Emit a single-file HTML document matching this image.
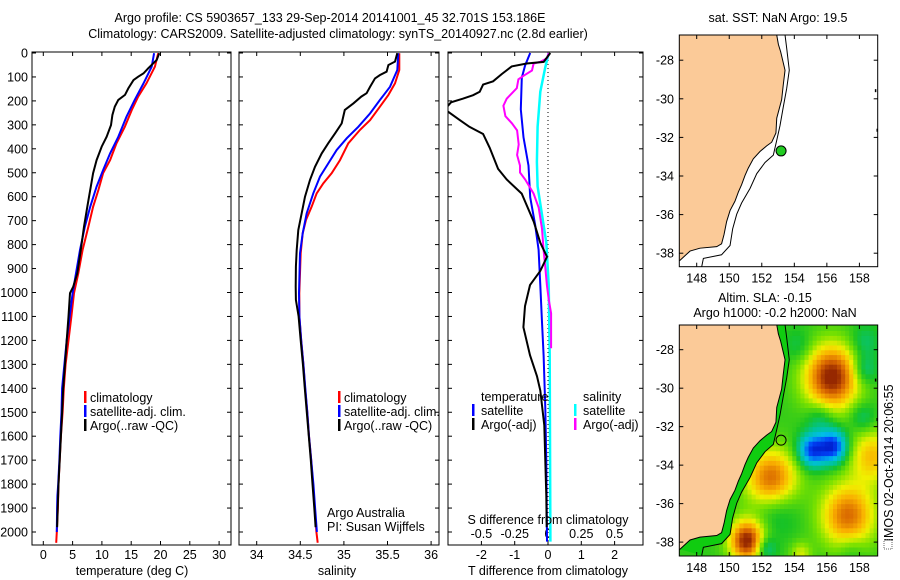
<!DOCTYPE html>
<html><head><meta charset="utf-8"><style>
html,body{margin:0;padding:0;background:#fff;}
svg{display:block;font-family:"Liberation Sans",sans-serif;}
text{font-size:12.5px;fill:#000;}
</style></head><body>
<svg id="fig" width="900" height="580" viewBox="0 0 900 580" xmlns="http://www.w3.org/2000/svg">
<defs>
<clipPath id="c1"><rect x="32" y="52" width="199" height="493"/></clipPath>
<clipPath id="c2"><rect x="239" y="52" width="200" height="493"/></clipPath>
<clipPath id="c3"><rect x="448" y="52" width="195" height="493"/></clipPath>
<clipPath id="cm1"><rect x="679.3" y="35" width="198.4" height="231.7"/></clipPath>
<clipPath id="cm2"><rect x="679.3" y="325" width="198.4" height="231"/></clipPath>
</defs>
<text x="330" y="22" text-anchor="middle">Argo profile: CS 5903657_133 29-Sep-2014 20141001_45 32.701S 153.186E</text>
<text x="338" y="38" text-anchor="middle">Climatology: CARS2009. Satellite-adjusted climatology: synTS_20140927.nc (2.8d earlier)</text>
<g id="g"></g>
</svg>
<script>
// ---- temperature panel data (depth m, deg C)
const tClimDepth=[1,57,127,182,238,308,377,447,502,572,642,725,822,920,1003,1100,1200,1300,1400,1500,1600,1700,1800,1900,2000,2045];
const tClimVal=[19.6,19.05,17.6,16.2,15.1,13.9,12.5,11.4,10.2,9.4,8.5,7.7,6.7,5.97,5.24,4.8,4.3,3.8,3.5,3.3,3.0,2.8,2.6,2.5,2.3,2.2];
const tSatDepth=[1,57,127,196,266,350,419,489,558,642,725,822,920,1003,1100,1200,1300,1400,1500,1600,1700,1800,1850,1900,2000];
const tSatVal=[18.9,18.5,17.1,15.6,14.2,12.8,11.4,10.2,9.1,8.0,7.1,6.26,5.58,5.0,4.5,4.0,3.6,3.2,3.1,2.9,2.75,2.55,2.4,2.35,2.3];
const tArgoDepth=[1,29,64,85,99,113,148,175,196,224,259,301,350,391,447,502,558,642,725,822,920,976,1003,1100,1200,1300,1400,1500,1600,1700,1800,1900,1980];
const tArgoVal=[19.8,19.35,17.9,17.1,16.2,15.4,14.5,13.95,12.8,12.2,11.8,11.55,10.8,9.96,9.1,8.5,8.1,7.5,6.95,6.4,5.8,5.1,4.56,4.3,4.0,3.7,3.4,3.2,3.0,2.8,2.6,2.45,2.35];
// ---- salinity panel data
const sClimDepth=[1,71,127,175,224,280,321,377,447,502,544,586,642,697,753,836,920,1003,1100,1200,1300,1400,1500,1600,1700,1800,1900,2000,2045];
const sClimVal=[35.635,35.635,35.586,35.51,35.414,35.30,35.185,35.05,34.955,34.86,34.764,34.688,34.63,34.565,34.527,34.505,34.497,34.489,34.49,34.51,34.535,34.555,34.58,34.60,34.625,34.645,34.665,34.685,34.70];
const sSatDepth=[1,71,141,196,252,308,356,405,461,516,586,669,753,836,1003,1100,1200,1300,1400,1500,1600,1700,1800,1900,2000];
const sSatVal=[35.624,35.612,35.529,35.414,35.30,35.165,35.032,34.917,34.821,34.726,34.649,34.573,34.527,34.497,34.485,34.49,34.51,34.535,34.557,34.58,34.60,34.625,34.65,34.67,34.69];
const sArgoDepth=[1,36,50,78,92,106,141,168,182,210,238,294,335,377,419,475,530,600,669,739,822,892,976,1031,1100,1200,1300,1400,1500,1600,1700,1800,1900,1980];
const sArgoVal=[35.612,35.586,35.51,35.49,35.414,35.357,35.30,35.26,35.20,35.11,35.01,34.975,34.90,34.82,34.745,34.669,34.611,34.554,34.516,34.477,34.459,34.45,34.447,34.45,34.48,34.505,34.53,34.552,34.575,34.598,34.62,34.64,34.66,34.675];
// ---- difference panel data
const dTSatDepth=[0,52,103,235,352,470,602,719,822,969,1115,1262,1482,1702,2040];
const dTSatVal=[-0.535,-0.687,-0.788,-0.818,-0.737,-0.586,-0.535,-0.384,-0.283,-0.232,-0.182,-0.131,-0.081,-0.05,-0.03];
const dTArgoDepth=[0,37,44,56,88,118,132,162,176,191,206,235,279,308,338,396,484,528,587,704,792,851,910,969,1057,1145,1262,1350,1409,1555,1702,1849,1980];
const dTArgoVal=[0.07,-0.13,-0.64,-1.09,-1.39,-1.65,-1.95,-2.05,-2.25,-2.56,-2.91,-3.1,-2.66,-2.36,-1.95,-1.75,-1.5,-1.24,-0.79,-0.43,-0.23,-0.03,-0.23,-0.54,-0.69,-0.74,-0.54,-0.33,-0.23,-0.11,-0.08,-0.05,-0.04];
const dSSatDepth=[0,59,162,308,455,557,675,792,969,1262,2040];
const dSSatVal=[0.005,-0.02,-0.058,-0.078,-0.083,-0.078,-0.045,-0.013,0.005,0.013,0.018];
const dSArgoDepth=[0,22,37,44,73,95,110,147,191,220,264,294,323,382,426,470,499,528,587,646,734,822,895,969,1028,1087,1233];
const dSArgoVal=[0.005,-0.008,-0.058,-0.108,-0.12,-0.184,-0.222,-0.234,-0.31,-0.335,-0.32,-0.27,-0.232,-0.22,-0.232,-0.21,-0.21,-0.171,-0.108,-0.07,-0.045,-0.033,-0.02,-0.008,0.005,0.023,0.023];
// ---- tick labels
const depthTicks=[0,100,200,300,400,500,600,700,800,900,1000,1100,1200,1300,1400,1500,1600,1700,1800,1900,2000];
const tempTicks=[0,5,10,15,20,25,30];
const salTicks=[34,34.5,35,35.5,36];
const dTTicks=[-2,-1,0,1,2];
const dSTicks=[-0.5,-0.25,0,0.25,0.5];
const latTicks=[-28,-30,-32,-34,-36,-38];
const lonTicks=[148,150,152,154,156,158];
// ---- map data (lon, lat)
const coastLon=[152.92,153.02,153.16,153.43,153.32,153.22,152.92,152.87,152.61,152.30,151.89,151.48,151.17,150.97,150.76,150.56,150.35,150.05,149.84,149.68,149.53,149.23,148.20,147.59,146.97];
const coastLat=[-26.7,-27.18,-27.56,-28.52,-29.28,-30.05,-31.0,-31.77,-32.25,-32.44,-32.73,-33.11,-33.59,-33.97,-34.45,-34.83,-35.31,-35.79,-36.36,-37.03,-37.51,-37.66,-37.74,-37.89,-38.37];
const isoLon=[153.43,153.53,153.69,153.53,153.32,153.12,152.92,152.71,152.20,151.69,151.28,150.76,150.46,150.21,150.05,149.53,148.41,148.31];
const isoLat=[-26.7,-27.37,-28.52,-29.47,-30.43,-31.39,-32.15,-32.92,-33.3,-33.88,-34.64,-35.4,-35.98,-36.74,-37.6,-38.08,-38.27,-38.69];
const argoLon=153.186, argoLat=-32.701;
const eddyLon=[156.3,155.1,156.4,152.6,151.1,157.3,158.8,158.3,152.8,155.6,158.2,152.2,154.4,158.3,154.3,157.5];
const eddyLat=[-29.4,-33.2,-33.0,-34.8,-37.9,-36.6,-33.5,-29.0,-36.0,-31.5,-31.5,-38.3,-38.6,-27.6,-27.8,-38.3];
const eddyAmp=[1.0,-0.8,-0.85,0.85,1.0,0.75,0.5,-0.3,-0.3,-0.22,-0.22,-0.35,0.3,-0.2,-0.15,-0.15];
const eddyRad=[1.15,0.6,0.6,1.1,0.75,1.15,1.0,0.55,1.0,0.6,0.55,0.45,0.45,0.6,0.6,0.6];

const NS='http://www.w3.org/2000/svg';
const G=document.getElementById('g');
function mk(tag,attrs,parent){const e=document.createElementNS(NS,tag);for(const k in attrs)e.setAttribute(k,attrs[k]);(parent||G).appendChild(e);return e;}
function txt(x,y,s,anchor,parent){const t=mk('text',{x:x,y:y,'text-anchor':anchor||'middle'},parent);t.textContent=s;return t;}

const yD=d=>53+d*0.2395;
const xT=v=>43.3+v*5.86;
const xS=v=>256.7+(v-34)*87.2;
const xDT=v=>548+v*33.3;
const xDS=v=>548+v*133.2;

function line(xs,ds,fx,color,clip,name,w){
  let p='';for(let i=0;i<xs.length;i++){p+=(i?'L':'M')+fx(xs[i]).toFixed(1)+','+yD(ds[i]).toFixed(1);}
  const e=mk('path',{d:p,fill:'none',stroke:color,'stroke-width':w||2,'clip-path':'url(#'+clip+')'});
  
  
  return e;
}
function panel(x0,x1,name){
  const r=mk('rect',{x:x0,y:52,width:x1-x0,height:493,fill:'none',stroke:'#000','stroke-width':1});
  
  
  depthTicks.forEach(d=>{mk('line',{x1:x0,x2:x0+4,y1:yD(d),y2:yD(d),stroke:'#000'});mk('line',{x1:x1-4,x2:x1,y1:yD(d),y2:yD(d),stroke:'#000'});});
}
// panel 1
panel(32,231,'temperature-panel');
depthTicks.forEach(d=>{const t=txt(28,yD(d)+4.5,String(d),'end');});
tempTicks.forEach(v=>{mk('line',{x1:xT(v),x2:xT(v),y1:545,y2:541,stroke:'#000'});mk('line',{x1:xT(v),x2:xT(v),y1:52,y2:56,stroke:'#000'});const t=txt(xT(v),559,String(v));});
line(tClimVal,tClimDepth,xT,'#f00','c1','temp-climatology-line');
line(tSatVal,tSatDepth,xT,'#00f','c1','temp-satellite-line');
line(tArgoVal,tArgoDepth,xT,'#000','c1','temp-argo-line');
{const t=txt(132,575,'temperature (deg C)');}
// panel 2
panel(239,439,'salinity-panel');
salTicks.forEach(v=>{mk('line',{x1:xS(v),x2:xS(v),y1:545,y2:541,stroke:'#000'});mk('line',{x1:xS(v),x2:xS(v),y1:52,y2:56,stroke:'#000'});const t=txt(xS(v),559,String(v));});
line(sClimVal,sClimDepth,xS,'#f00','c2','sal-climatology-line');
line(sSatVal,sSatDepth,xS,'#00f','c2','sal-satellite-line');
line(sArgoVal,sArgoDepth,xS,'#000','c2','sal-argo-line');
{const t=txt(337,575,'salinity');}
// legends
function legend(mx,tx,y,color,label,name){
  const g=mk('g',{});
  
  
  mk('rect',{x:mx,y:y-11,width:2.5,height:12,fill:color},g);
  txt(tx,y,label,'start',g);
}
[[84,90],[338,344]].forEach((p,i)=>{
  legend(p[0],p[1],402,'#f00','climatology','legend-climatology');
  legend(p[0],p[1],416,'#00f','satellite-adj. clim.','legend-satellite-adj');
  legend(p[0],p[1],430,'#000','Argo(..raw -QC)','legend-argo');
});
{const t=txt(327,517,'Argo Australia','start');
 const t2=txt(327,531,'PI: Susan Wijffels','start');}
// panel 3
{const r=mk('rect',{x:448,y:52,width:195,height:493,fill:'none',stroke:'#000'});}
mk('line',{x1:548,x2:548,y1:52,y2:545,stroke:'#000','stroke-dasharray':'1,3','stroke-width':1});
dTTicks.forEach(v=>{mk('line',{x1:xDT(v),x2:xDT(v),y1:545,y2:541,stroke:'#000'});mk('line',{x1:xDT(v),x2:xDT(v),y1:52,y2:56,stroke:'#000'});const t=txt(xDT(v),559,String(v));});
dSTicks.forEach(v=>{const t=txt(xDS(v),538,String(v));});
depthTicks.forEach(d=>{mk('line',{x1:448,x2:452,y1:yD(d),y2:yD(d),stroke:'#000'});mk('line',{x1:639,x2:643,y1:yD(d),y2:yD(d),stroke:'#000'});});
line(dSSatVal,dSSatDepth,xDS,'#0ff','c3','s-diff-satellite-line',2.5);
line(dTSatVal,dTSatDepth,xDT,'#00f','c3','t-diff-satellite-line');
line(dSArgoVal,dSArgoDepth,xDS,'#f0f','c3','s-diff-argo-line');
line(dTArgoVal,dTArgoDepth,xDT,'#000','c3','t-diff-argo-line');
{const t=txt(548,524,'S difference from climatology');
 const t2=txt(548,575,'T difference from climatology');}
{const t=txt(481,401,'temperature','start');
 const t2=txt(583,401,'salinity','start');}
legend(472,481,415,'#00f','satellite','legend-t-satellite');
legend(472,481,429,'#000','Argo(-adj)','legend-t-argo');
legend(574,583,415,'#0ff','satellite','legend-s-satellite');
legend(574,583,429,'#f0f','Argo(-adj)','legend-s-argo');

// ---- maps
const mx=lon=>696.7+(lon-148)*16.27;
function mapFrame(top,bot,ylat,clip,name,field){
  const g=mk('g',{'clip-path':'url(#'+clip+')'});
  
  
  if(field){
    const stops=[[-1,[0,0,170]],[-0.7,[0,70,250]],[-0.45,[0,190,235]],[-0.2,[0,195,150]],[0,[25,195,35]],[0.2,[120,225,0]],[0.4,[240,240,0]],[0.6,[250,175,0]],[0.82,[215,100,0]],[1,[150,40,0]]];
    const col=v=>{v=Math.max(-1,Math.min(1,v));for(let i=1;i<stops.length;i++){if(v<=stops[i][0]){const a=stops[i-1],b=stops[i],f=(v-a[0])/(b[0]-a[0]);return 'rgb('+a[1].map((c,k)=>Math.round(c+(b[1][k]-c)*f)).join(',')+')';}}return 'rgb(150,40,0)';};
    const step=0.25;
    for(let lon=146.875;lon<159.3;lon+=step){for(let lat=-38.75;lat<-26.5;lat+=step){
      let v=0.05;for(let i=0;i<eddyLon.length;i++){const dx=(lon+step/2-eddyLon[i]),dy=(lat+step/2-eddyLat[i]);v+=eddyAmp[i]*Math.exp(-(dx*dx+dy*dy)/(2*eddyRad[i]*eddyRad[i]));}
      mk('rect',{x:mx(lon).toFixed(1),y:ylat(lat+step).toFixed(1),width:(step*16.27+0.6).toFixed(1),height:(step*19.3+0.6).toFixed(1),fill:col(v)},g);
    }}
    let sp='';isoLon.forEach((l,i)=>sp+=(i?'L':'M')+mx(l)+','+ylat(isoLat[i]));
    for(let i=coastLon.length-1;i>=0;i--)sp+='L'+mx(coastLon[i])+','+ylat(coastLat[i]);
    mk('path',{d:sp+'Z',fill:'#10cc10'},g);
  }
  let lp='';coastLon.forEach((l,i)=>lp+=(i?'L':'M')+mx(l)+','+ylat(coastLat[i]));
  lp+='L'+mx(146.8)+','+ylat(-38.37)+'L'+mx(146.8)+','+ylat(-26.5)+'L'+mx(152.92)+','+ylat(-26.5)+'Z';
  const land=mk('path',{d:lp,fill:'#fbca98',stroke:'#000','stroke-width':1},g);
  
  
  let ip='';isoLon.forEach((l,i)=>ip+=(i?'L':'M')+mx(l)+','+ylat(isoLat[i]));
  mk('path',{d:ip,fill:'none',stroke:'#000','stroke-width':1},g);
  mk('rect',{x:mx(158.95),y:ylat(-29.5),width:1.5,height:3,fill:'#000'},g);
  mk('rect',{x:mx(159.05),y:ylat(-31.55),width:1.5,height:3,fill:'#000'},g);
  const dot=mk('circle',{cx:mx(argoLon),cy:ylat(argoLat),r:5,fill:field?'none':'#22cc22',stroke:'#000','stroke-width':1},g);
  
  
  const r=mk('rect',{x:679.3,y:top,width:198.4,height:bot-top,fill:'none',stroke:'#000'});
  
  
  latTicks.forEach(l=>{const y=ylat(l);mk('line',{x1:679.3,x2:683.3,y1:y,y2:y,stroke:'#000'});mk('line',{x1:873.7,x2:877.7,y1:y,y2:y,stroke:'#000'});const t=txt(674,y+4.5,String(l),'end');});
  lonTicks.forEach(l=>{const x=mx(l);mk('line',{x1:x,x2:x,y1:bot,y2:bot-4,stroke:'#000'});mk('line',{x1:x,x2:x,y1:top,y2:top+4,stroke:'#000'});const t=txt(x,bot+16,String(l));});
}
mapFrame(35,266.7,lat=>60.2+(-28-lat)*19.3,'cm1','sst-map',false);
mapFrame(325,556,lat=>349.7+(-28-lat)*19.24,'cm2','sla-map',true);
{const t=txt(778,22,'sat. SST: NaN Argo: 19.5');
 const t2=txt(765,302,'Altim. SLA: -0.15');
 const t3=txt(775,317,'Argo h1000: -0.2 h2000: NaN');
 const t4=txt(0,0,'IMOS 02-Oct-2014 20:06:55');t4.setAttribute('transform','translate(893,463) rotate(-90)');}
mk('rect',{x:884,y:540,width:8,height:9,fill:'none',stroke:'#666','stroke-dasharray':'1,1'});
</script>
</body></html>
